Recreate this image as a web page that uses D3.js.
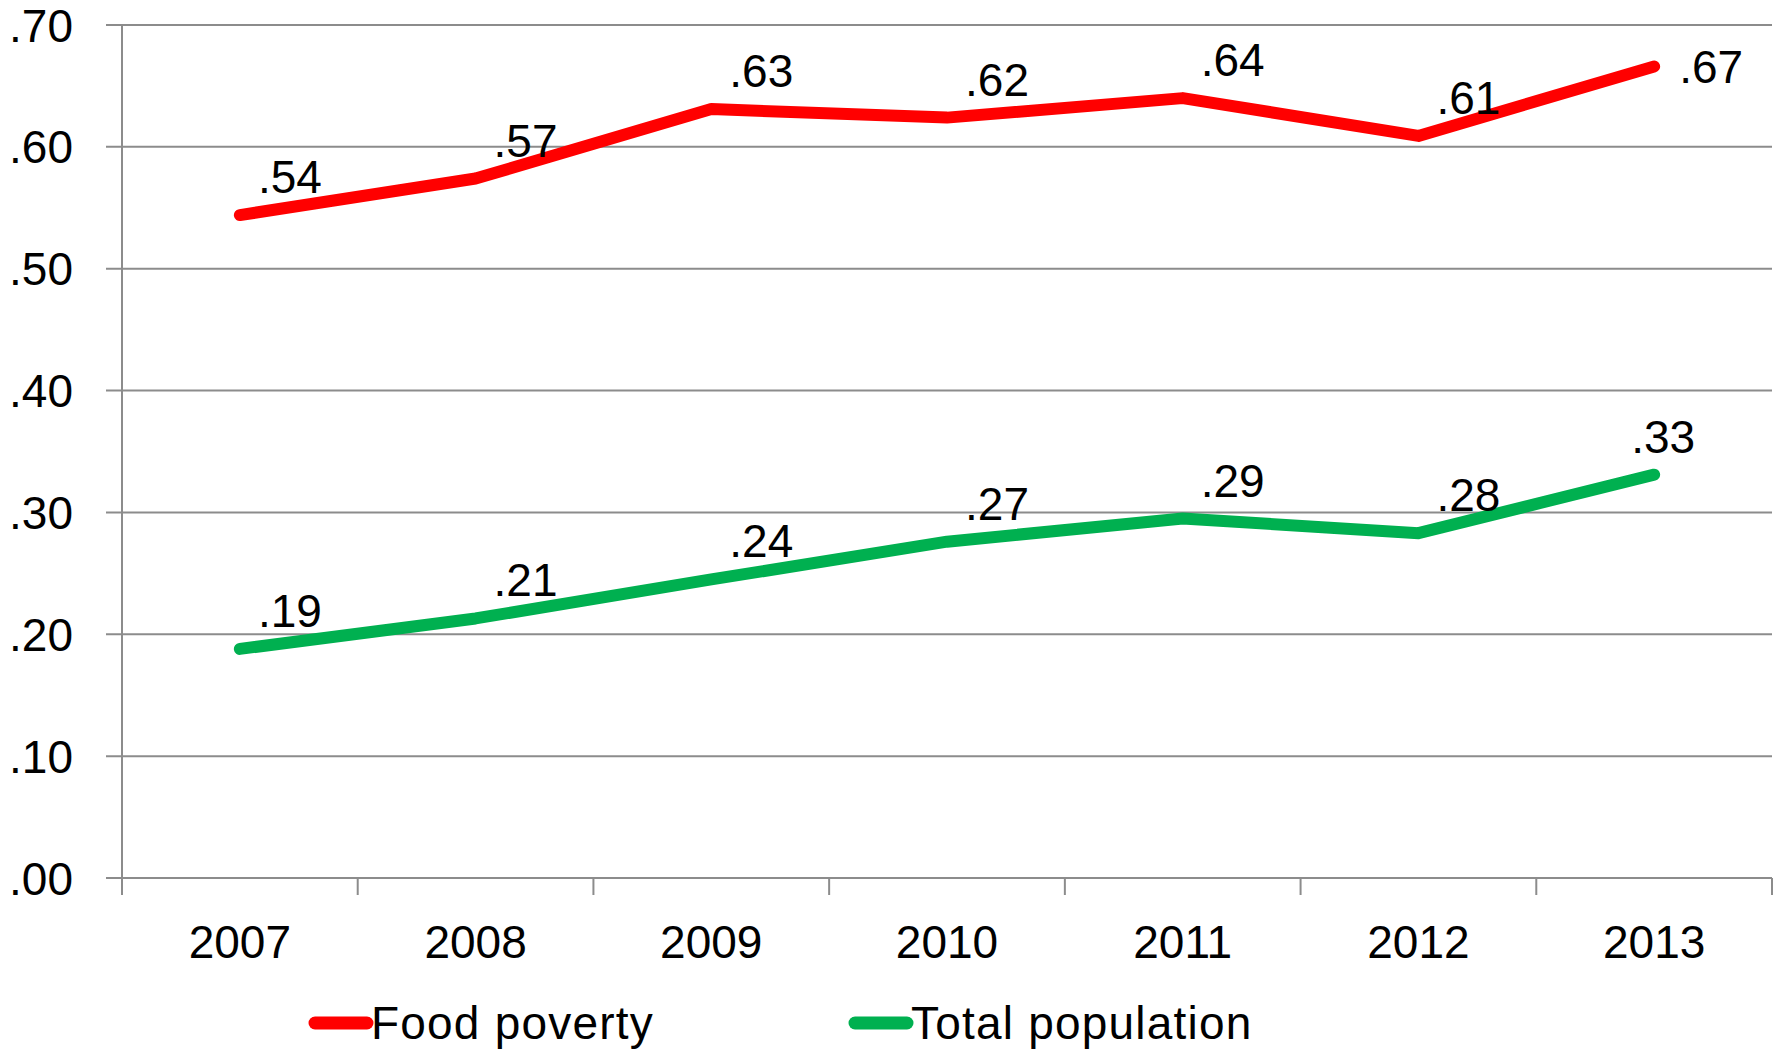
<!DOCTYPE html>
<html>
<head>
<meta charset="utf-8">
<script src="https://cdn.jsdelivr.net/npm/d3@7"></script>
<style>
  html, body { margin: 0; padding: 0; background: #fff; }
  text { font-family: "Liberation Sans", Arial, sans-serif; fill: #000; }
</style>
</head>
<body>
<div id="viz"></div>
<script>
// data
const years = ['2007', '2008', '2009', '2010', '2011', '2012', '2013'];
const foodPoverty = [0.544, 0.574, 0.631, 0.624, 0.640, 0.609, 0.666];
const totalPopulation = [0.188, 0.213, 0.245, 0.276, 0.295, 0.283, 0.331];
const foodLabels = ['.54', '.57', '.63', '.62', '.64', '.61', '.67'];
const totalLabels = ['.19', '.21', '.24', '.27', '.29', '.28', '.33'];
const yTicks = [0, 0.1, 0.2, 0.3, 0.4, 0.5, 0.6, 0.7];
const yTickLabels = ['.00', '.10', '.20', '.30', '.40', '.50', '.60', '.70'];

const series = [
  { name: 'Food poverty', values: foodPoverty, labels: foodLabels, color: '#ff0000', last: 'right' },
  { name: 'Total population', values: totalPopulation, labels: totalLabels, color: '#00b050', last: 'above' },
];

// dimensions
const dimensions = {
  width: 1783,
  height: 1050,
  margin: { top: 25, right: 11, bottom: 172, left: 122 },
};
dimensions.boundedWidth = dimensions.width - dimensions.margin.left - dimensions.margin.right;
dimensions.boundedHeight = dimensions.height - dimensions.margin.top - dimensions.margin.bottom;

// canvas
const svg = d3.select('#viz')
  .append('svg')
    .attr('width', dimensions.width)
    .attr('height', dimensions.height);

const viz = svg.append('g')
  .attr('transform', `translate(${dimensions.margin.left}, ${dimensions.margin.top})`);

// scales
const xScale = d3.scaleBand()
  .domain(years)
  .range([0, dimensions.boundedWidth]);

const yScale = d3.scaleLinear()
  .domain([0, 0.7])
  .range([dimensions.boundedHeight, 0]);

const xCenter = (d, i) => xScale(years[i]) + xScale.bandwidth() / 2;

// gridlines + y axis
const gridColor = '#8c8c8c';
viz.append('g')
  .selectAll('line')
  .data(yTicks)
  .join('line')
    .attr('x1', -16)
    .attr('x2', dimensions.boundedWidth)
    .attr('y1', d => yScale(d))
    .attr('y2', d => yScale(d))
    .attr('stroke', gridColor)
    .attr('stroke-width', 2);

viz.append('line')
  .attr('x1', 0).attr('x2', 0)
  .attr('y1', 0).attr('y2', dimensions.boundedHeight + 17)
  .attr('stroke', gridColor)
  .attr('stroke-width', 2);

viz.append('g')
  .selectAll('text')
  .data(yTicks)
  .join('text')
    .attr('x', -49)
    .attr('y', d => yScale(d) + 16.5)
    .attr('text-anchor', 'end')
    .style('font-size', '46px')
    .text((d, i) => yTickLabels[i]);

// x axis ticks at category boundaries
const boundaries = years.map(y => xScale(y)).concat([dimensions.boundedWidth]);
viz.append('g')
  .selectAll('line')
  .data(boundaries)
  .join('line')
    .attr('x1', d => d).attr('x2', d => d)
    .attr('y1', dimensions.boundedHeight)
    .attr('y2', dimensions.boundedHeight + 17)
    .attr('stroke', gridColor)
    .attr('stroke-width', 2);

viz.append('g')
  .selectAll('text')
  .data(years)
  .join('text')
    .attr('x', d => xScale(d) + xScale.bandwidth() / 2)
    .attr('y', dimensions.boundedHeight + 80)
    .attr('text-anchor', 'middle')
    .style('font-size', '46px')
    .text(d => d);

// lines
const lineGenerator = d3.line()
  .x(xCenter)
  .y(d => yScale(d));

series.forEach(s => {
  viz.append('path')
    .attr('d', lineGenerator(s.values))
    .attr('fill', 'none')
    .attr('stroke', s.color)
    .attr('stroke-width', 12)
    .attr('stroke-linecap', 'round')
    .attr('stroke-linejoin', 'round');
});

// data labels (above-right of each point, last red one to the right)
series.forEach(s => {
  viz.append('g')
    .selectAll('text')
    .data(s.values)
    .join('text')
      .attr('x', (d, i) => {
        const cx = xCenter(d, i);
        if (i === s.values.length - 1) return s.last === 'right' ? cx + 25 : cx + 9;
        return cx + 50;
      })
      .attr('y', (d, i) => {
        const cy = yScale(d);
        if (i === s.values.length - 1 && s.last === 'right') return cy + 17;
        return cy - 22;
      })
      .attr('text-anchor', (d, i) => (i === s.values.length - 1 && s.last === 'right') ? 'start' : 'middle')
      .style('font-size', '46px')
      .text((d, i) => s.labels[i]);
});

// legend
const legendX = [315, 855];
const legend = svg.append('g')
  .selectAll('g')
  .data(series)
  .join('g')
    .attr('transform', (d, i) => `translate(${legendX[i]}, 1023)`);

legend.append('line')
  .attr('x1', 0).attr('x2', 52)
  .attr('y1', 0).attr('y2', 0)
  .attr('stroke', d => d.color)
  .attr('stroke-width', 13)
  .attr('stroke-linecap', 'round');

legend.append('text')
  .attr('x', 56)
  .attr('y', 16)
  .style('font-size', '46px')
  .style('letter-spacing', '1.2px')
  .text(d => d.name);
</script>
</body>
</html>
